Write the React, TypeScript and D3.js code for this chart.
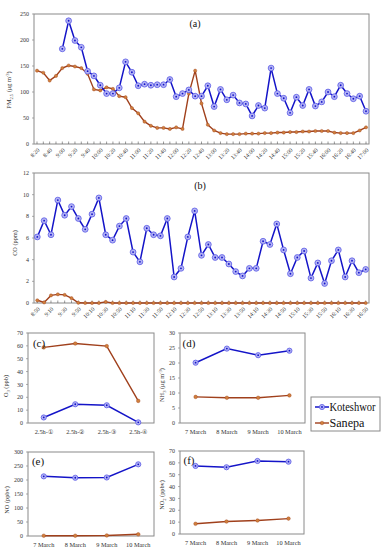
import React from "react";
import * as d3 from "d3";

// ---------- DATA ----------
const timesA = ["8:20","8:30","8:40","8:50","9:00","9:10","9:20","9:30","9:40","9:50","10:00","10:10","10:20","10:30","10:40","10:50","11:00","11:10","11:20","11:30","11:40","11:50","12:00","12:10","12:20","12:30","12:40","12:50","13:00","13:10","13:20","13:30","13:40","13:50","14:00","14:10","14:20","14:30","14:40","14:50","15:00","15:10","15:20","15:30","15:40","15:50","16:00","16:10","16:20","16:30","16:40","16:50","17:00"];
const pmKoteshwor: (number | null)[] = [null,null,null,null,183,237,199,186,140,131,113,97,97,108,158,138,112,115,113,114,114,124,91,97,104,92,92,112,72,105,85,94,79,77,54,74,69,146,97,88,60,90,74,105,73,81,100,91,113,97,87,92,63];
const pmSanepa = [141,137,122,131,146,151,149,146,135,105,103,109,106,92,90,69,59,43,35,31,31,29,32,29,97,141,78,37,26,21,19,19,19,20,20,20,21,21,22,22,23,23,24,24,25,25,25,22,21,21,21,26,32];
const pmTicks = [0,50,100,150,200,250];

const timesB = ["8:50","9:00","9:10","9:20","9:30","9:40","9:50","10:00","10:10","10:20","10:30","10:40","10:50","11:00","11:10","11:20","11:30","11:40","11:50","12:00","12:10","12:20","12:30","12:40","12:50","13:00","13:10","13:20","13:30","13:40","13:50","14:00","14:10","14:20","14:30","14:40","14:50","15:00","15:10","15:20","15:30","15:40","15:50","16:00","16:10","16:20","16:30","16:40","16:50"];
const coKoteshwor = [6.1,7.6,6.3,9.5,8.1,8.9,7.8,6.8,8.2,9.7,6.3,5.8,7.1,7.8,4.7,3.8,6.9,6.3,6.2,7.8,2.4,3.2,6.1,8.5,4.4,5.4,4.2,4.2,3.6,2.9,2.5,3.2,3.2,5.7,5.4,7.3,4.9,2.7,4.2,4.8,2.3,3.7,1.8,3.9,4.9,2.4,3.9,2.8,3.1];
const coSanepa = [0.25,0.05,0.7,0.8,0.75,0.45,0.02,0,0,0,0.1,0,0,0,0,0,0,0,0,0,0,0,0,0,0,0,0,0,0,0,0,0,0,0,0,0,0,0,0,0,0,0,0,0,0,0,0,0,0];
const coTicks = [0,2,4,6,8,10,12];

const periods = ["2.5h-①","2.5h-②","2.5h-③","2.5h-④"];
const o3Koteshwor = [4.3,14.6,13.8,0.5];
const o3Sanepa = [58.8,61.8,59.8,17.2];
const o3Ticks = [0,10,20,30,40,50,60,70];

const days = ["7 March","8 March","9 March","10 March"];
const nh3Koteshwor = [20.1,24.8,22.6,24.1];
const nh3Sanepa = [8.7,8.4,8.4,9.2];
const nh3Ticks = [0,5,10,15,20,25,30];

const noKoteshwor = [213,208,209,256];
const noSanepa = [1,1,2,6];
const noTicks = [0,50,100,150,200,250,300];

const no2Koteshwor = [57.4,56.3,61.6,61.0];
const no2Sanepa = [8.6,10.5,11.4,13.0];
const no2Ticks = [0,10,20,30,40,50,60,70];

const seriesNames = ["Koteshwor","Sanepa"];

// ---------- STYLE ----------
const FONT = "'Liberation Serif','Times New Roman',serif";
const BLUE = "#1414c8";
const BLUE_FILL = "#b4b4f4";
const BLUE_STROKE = "#5a5ae6";
const BROWN = "#a0401c";
const BROWN_MK = "#d0803c";
const FRAME = "#8a8a8a";
const TXT = "#333";

function KMarker({ x, y, r = 3 }: { x: number; y: number; r?: number }) {
  return (
    <g>
      <circle cx={x} cy={y} r={r} fill={BLUE_FILL} stroke={BLUE_STROKE} strokeWidth={0.8} />
      <circle cx={x} cy={y} r={0.9} fill={BLUE} />
    </g>
  );
}
function SMarker({ x, y, r = 1.7 }: { x: number; y: number; r?: number }) {
  return <circle cx={x} cy={y} r={r} fill={BROWN_MK} stroke={BROWN} strokeWidth={0.4} />;
}

type PanelProps = {
  cats: string[];
  kot: (number | null)[];
  san: (number | null)[];
  x0: number; x1: number; // frame
  px0: number; px1: number; // point range
  y0: number; y1: number; // top, bottom
  ticks: number[];
  label: string;
  labelX: number; labelY: number; labelSize: number;
  yTitle: React.ReactNode;
  yTitleX: number; yTitleY: number;
  timeAxis?: boolean;
  kR?: number; sR?: number;
};

function Panel(p: PanelProps) {
  const x = d3.scalePoint<string>().domain(p.cats).range([p.px0, p.px1]);
  const y = d3.scaleLinear().domain([0, p.ticks[p.ticks.length - 1]]).range([p.y1, p.y0]);
  const line = d3
    .line<number | null>()
    .defined((d) => d !== null)
    .x((_, i) => x(p.cats[i]) as number)
    .y((d) => y(d as number));
  return (
    <g fontFamily={FONT}>
      <rect x={p.x0} y={p.y0} width={p.x1 - p.x0} height={p.y1 - p.y0} fill="white" stroke={FRAME} strokeWidth={1} />
      {p.ticks.map((t) => (
        <g key={t}>
          <line x1={p.x0 - 2} x2={p.x0} y1={y(t)} y2={y(t)} stroke={FRAME} strokeWidth={0.7} />
          <text x={p.x0 - 5} y={y(t)} dy="0.35em" fontSize={6} textAnchor="end" fill={TXT}>{t}</text>
        </g>
      ))}
      {p.timeAxis
        ? p.cats.map((c, i) => (
            <g key={c}>
              <line x1={x(c)} x2={x(c)} y1={p.y1} y2={p.y1 - 2.5} stroke="#555" strokeWidth={0.6} />
              {i % 2 === 0 && (
                <text
                  transform={`translate(${(x(c) as number) + 1.5},${p.y1 + 5}) rotate(-45)`}
                  fontSize={5.8}
                  textAnchor="end"
                  dy="0.35em"
                  fill={TXT}
                >
                  {c}
                </text>
              )}
            </g>
          ))
        : p.cats.map((c) => (
            <text key={c} x={x(c)} y={p.y1 + 11} fontSize={6.3} textAnchor="middle" fill={TXT}>{c}</text>
          ))}
      <path d={line(p.san) || ""} fill="none" stroke={BROWN} strokeWidth={1.4} />
      <path d={line(p.kot) || ""} fill="none" stroke={BLUE} strokeWidth={1.5} />
      {p.san.map((d, i) => (d === null ? null : <SMarker key={"s" + i} x={x(p.cats[i]) as number} y={y(d)} r={p.sR} />))}
      {p.kot.map((d, i) => (d === null ? null : <KMarker key={"k" + i} x={x(p.cats[i]) as number} y={y(d)} r={p.kR} />))}
      <text x={p.labelX} y={p.labelY} fontSize={p.labelSize} textAnchor="middle" fill="#111">{p.label}</text>
      <text
        transform={`translate(${p.yTitleX},${p.yTitleY}) rotate(-90)`}
        fontSize={6.3}
        textAnchor="middle"
        fill={TXT}
      >
        {p.yTitle}
      </text>
    </g>
  );
}

export default function App() {
  return (
    <svg width={386} height={550} style={{ position: "absolute", left: 0, top: 0, background: "white" }}>
      <rect width={386} height={550} fill="white" />
      <Panel
        cats={timesA} kot={pmKoteshwor} san={pmSanepa}
        x0={34} x1={369} px0={37} px1={366} y0={14} y1={144}
        ticks={pmTicks} label="(a)" labelX={195} labelY={27} labelSize={10}
        yTitle={<>PM<tspan fontSize={4.5} dy={2}>2.5</tspan><tspan dy={-2}> (μg m</tspan><tspan fontSize={4.5} dy={-2}>-3</tspan><tspan dy={2}>)</tspan></>}
        yTitleX={11} yTitleY={90} timeAxis kR={2.9} sR={1.6}
      />
      <Panel
        cats={timesB} kot={coKoteshwor} san={coSanepa}
        x0={34} x1={369} px0={37.3} px1={365.7} y0={173} y1={303}
        ticks={coTicks} label="(b)" labelX={200} labelY={189} labelSize={10}
        yTitle="CO (ppm)" yTitleX={17} yTitleY={243} timeAxis kR={2.9} sR={1.6}
      />
      <Panel
        cats={periods} kot={o3Koteshwor} san={o3Sanepa}
        x0={28} x1={154} px0={43.75} px1={138.25} y0={333} y1={423}
        ticks={o3Ticks} label="(c)" labelX={39} labelY={347} labelSize={11}
        yTitle={<>O<tspan fontSize={4.5} dy={2}>3</tspan><tspan dy={-2}> (ppb)</tspan></>}
        yTitleX={8} yTitleY={386} kR={2.6} sR={1.8}
      />
      <Panel
        cats={days} kot={nh3Koteshwor} san={nh3Sanepa}
        x0={180} x1={305} px0={195.6} px1={289.4} y0={333} y1={423}
        ticks={nh3Ticks} label="(d)" labelX={189} labelY={347} labelSize={11}
        yTitle={<>NH<tspan fontSize={4.5} dy={2}>3</tspan><tspan dy={-2}> (μg m</tspan><tspan fontSize={4.5} dy={-2}>-3</tspan><tspan dy={2}>)</tspan></>}
        yTitleX={164} yTitleY={385} kR={2.6} sR={1.8}
      />
      <Panel
        cats={days} kot={noKoteshwor} san={noSanepa}
        x0={28} x1={154} px0={43.75} px1={138.25} y0={452} y1={536}
        ticks={noTicks} label="(e)" labelX={38} labelY={465} labelSize={11}
        yTitle="NO (ppbv)" yTitleX={9} yTitleY={500} kR={2.6} sR={1.8}
      />
      <Panel
        cats={days} kot={no2Koteshwor} san={no2Sanepa}
        x0={180} x1={304} px0={195.5} px1={288.5} y0={451} y1={534}
        ticks={no2Ticks} label="(f)" labelX={189} labelY={464} labelSize={11}
        yTitle={<>NO<tspan fontSize={4.5} dy={2}>2</tspan><tspan dy={-2}> (ppbv)</tspan></>}
        yTitleX={164} yTitleY={495} kR={2.6} sR={1.8}
      />
      {/* Legend */}
      <g fontFamily={FONT}>
        <rect x={311} y={397} width={69} height={34} fill="white" stroke={FRAME} strokeWidth={1} />
        <line x1={315} x2={329} y1={407} y2={407} stroke={BLUE} strokeWidth={1.5} />
        <KMarker x={322} y={407} r={2.6} />
        <text x={329.5} y={407} dy="0.35em" fontSize={11.5} fill="#111" textLength={46} lengthAdjust="spacingAndGlyphs">{seriesNames[0]}</text>
        <line x1={315} x2={329} y1={423} y2={423} stroke={BROWN} strokeWidth={1.4} />
        <SMarker x={322} y={423} r={1.8} />
        <text x={329.5} y={423} dy="0.35em" fontSize={11.5} fill="#111" textLength={35} lengthAdjust="spacingAndGlyphs">{seriesNames[1]}</text>
      </g>
    </svg>
  );
}
